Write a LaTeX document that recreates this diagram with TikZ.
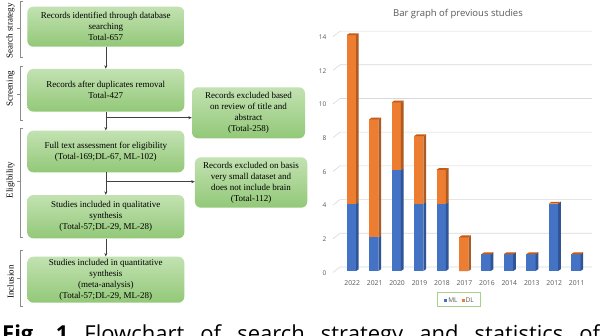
\documentclass[tikz,border=0pt]{standalone}
\usepackage{fontspec}
\setmainfont{Liberation Serif}
\newfontfamily\osans{Open Sans}
\usetikzlibrary{arrows.meta}
\definecolor{mlblue}{HTML}{4472C4}
\definecolor{mlside}{HTML}{2F5597}
\definecolor{dlorange}{HTML}{ED7D31}
\definecolor{dlside}{HTML}{AE5A21}
\definecolor{dltop}{HTML}{C55A11}
\definecolor{gridgray}{HTML}{D9D9D9}
\definecolor{txtgray}{HTML}{595959}
\definecolor{boxtop}{HTML}{C3E2B2}
\definecolor{boxbot}{HTML}{92C878}
\definecolor{legendgreen}{HTML}{A9D18E}
\definecolor{brgray}{HTML}{8C8C8C}
\definecolor{arrgray}{HTML}{404040}
\tikzset{
  fbox/.style={rounded corners=6pt, top color=boxtop, bottom color=boxbot,
    align=center, inner sep=2pt, font=\fontsize{9}{11}\selectfont, text=black},
  flowarrow/.style={draw=arrgray, line width=0.6pt, -{Stealth[length=3.5pt,width=3pt]}},
  bracketline/.style={draw=brgray, line width=0.6pt},
  sidelbl/.style={rotate=90, font=\fontsize{9}{11}\selectfont, inner sep=0pt},
  axlbl/.style={font=\osans\fontsize{6.5}{8}\selectfont, text=txtgray, inner sep=0pt},
  yearlbl/.style={font=\osans\fontsize{6.8}{8}\selectfont, text=txtgray, inner sep=0pt},
}
\begin{document}
\begin{tikzpicture}[x=1pt,y=-1pt]
\useasboundingbox (0,0) rectangle (600,336);
\fill[white] (0,0) rectangle (600,336);

% ---------- flowchart boxes ----------
\node[fbox, minimum width=157pt, minimum height=40pt] (b1) at (105.8,26.7)
  {Records identified through database\\searching\\Total-657};
\node[fbox, minimum width=157pt, minimum height=42.7pt] (b2) at (105.8,90.3)
  {Records after duplicates removal\\Total-427};
\node[fbox, minimum width=113pt, minimum height=51pt] (b3) at (248.5,112.8)
  {Records excluded based\\on review of title and\\abstract\\(Total-258)};
\node[fbox, minimum width=112.3pt, minimum height=50.4pt] (b5) at (251.1,182.5)
  {Records excluded on basis\\very small dataset and\\does not include brain\\(Total-112)};
\node[fbox, minimum width=157pt, minimum height=41.6pt] (b4) at (105.8,151.5)
  {Full text assessment for eligibility\\(Total-169;DL-67, ML-102)};
\node[fbox, minimum width=157pt, minimum height=43.3pt] (b6) at (105.8,216.7)
  {Studies included in qualitative\\synthesis\\(Total-57;DL-29, ML-28)};
\node[fbox, minimum width=157pt, minimum height=46pt] (b7) at (105.8,279.7)
  {Studies included in quantitative\\synthesis\\(meta-analysis)\\(Total-57;DL-29, ML-28)};

% ---------- connectors ----------
\coordinate (j1) at (105.8,117.7);
\coordinate (j2) at (105.8,181.7);
\draw[flowarrow] (b1.south) -- (b2.north);
\draw[flowarrow] (b2.south) -- (b4.north);
\draw[flowarrow] (j1) -- (j1 -| b3.west);
\draw[flowarrow] (b4.south) -- (b6.north);
\draw[flowarrow] (j2) -- (j2 -| b5.west);
\draw[flowarrow] (b6.south) -- (b7.north);

% ---------- side brackets ----------
\draw[bracketline] (23,1.7) -- (20,1.7) -- (20,57.3) -- (23,57.3);
\draw[bracketline] (20,28.3) -- (16.5,28.3);
\node[sidelbl] (l1) at (10.5,31) {Search strategy};
\draw[bracketline] (23,66) -- (20,66) -- (20,120.7) -- (23,120.7);
\draw[bracketline] (20,94) -- (16.5,94);
\node[sidelbl] (l2) at (10.5,89) {Screening};
\draw[bracketline] (23,128) -- (20,128) -- (20,237.3) -- (23,237.3);
\draw[bracketline] (20,181.7) -- (16.5,181.7);
\node[sidelbl] (l3) at (10.5,180) {Eligibility};
\draw[bracketline] (23,250.7) -- (20,250.7) -- (20,306) -- (23,306);
\draw[bracketline] (20,278.3) -- (16.5,278.3);
\node[sidelbl] (l4) at (10.5,282) {Inclusion};

% ---------- bar chart ----------
\node[font=\osans\fontsize{9.5}{11}\selectfont, text=txtgray] (title) at (458,14.5)
  {Bar graph of previous studies};
\foreach \v in {0,2,...,14} {
  \pgfmathsetmacro{\yy}{271-16.85*\v}
  \draw[gridgray, line width=0.6pt] (333,\yy+1.5) -- (340,\yy-4) -- (592,\yy-4);
  \node[axlbl, anchor=east] (ax\v) at (326.5,\yy+2) {\v};
}
\foreach \i/\m/\d/\yr in {0/4/10/2022,1/2/7/2021,2/6/4/2020,3/4/4/2019,4/4/2/2018,
  5/0/2/2017,6/1/0/2016,7/1/0/2014,8/1/0/2013,9/4/0/2012,10/1/0/2011} {
  \pgfmathsetmacro{\xl}{346.7+22.45*\i}
  \pgfmathsetmacro{\xr}{\xl+9.3}
  \pgfmathsetmacro{\ym}{271-16.85*\m}
  \pgfmathsetmacro{\yt}{271-16.85*(\m+\d)}
  \fill[mlblue] (\xl,271) rectangle (\xr,\ym);
  \fill[mlside] (\xr,271) -- (\xr+2.7,269.2) -- (\xr+2.7,\ym-1.8) -- (\xr,\ym) -- cycle;
  \fill[dlorange] (\xl,\ym) rectangle (\xr,\yt);
  \fill[dlside] (\xr,\ym) -- (\xr+2.7,\ym-1.8) -- (\xr+2.7,\yt-1.8) -- (\xr,\yt) -- cycle;
  \fill[dltop] (\xl,\yt) -- (\xl+2.7,\yt-1.8) -- (\xr+2.7,\yt-1.8) -- (\xr,\yt) -- cycle;
  \node[yearlbl] (yr\i) at (\xl+5.5,283.3) {\yr};
}
% legend
\node[draw=legendgreen, line width=0.8pt, minimum width=43.4pt, minimum height=14pt,
  inner sep=0pt, font=\osans\fontsize{6.5}{7}\selectfont, text=txtgray] (legend) at (459,299.7)
  {\textcolor{mlblue}{\rule{3pt}{3pt}}\,ML\hspace{4pt}\textcolor{dlorange}{\rule{3pt}{3pt}}\,DL};

% ---------- caption (cut by page edge, as in the reference) ----------
\node[anchor=base west, inner sep=0pt, font=\osans\fontsize{22}{26}\selectfont] (cap) at (2,342)
  {\hbox to 598pt{\bfseries Fig.\hfill 1\hfill\mdseries Flowchart\hfill of\hfill search\hfill strategy\hfill and\hfill statistics\hfill of}};
\end{tikzpicture}
\end{document}
